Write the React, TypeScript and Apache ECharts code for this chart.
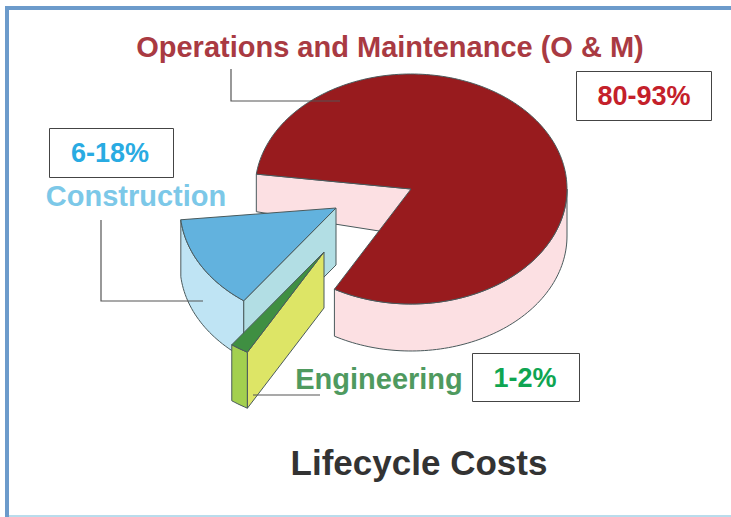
import React, { useEffect, useRef } from "react";
import * as echarts from "echarts";

const sliceNames = ["Operations and Maintenance (O & M)", "Construction", "Engineering"];
const sliceRanges = ["80-93%", "6-18%", "1-2%"];
const sliceShares = [81.1, 13.3, 1.9];
const FONT = "'Liberation Sans', Arial, sans-serif";
const W = 731, H = 517;
const RX = 156, RY = 115, FIRST_ANGLE = 119.4;
const centres = [[411, 189], [336, 208], [324, 252]];
const depths = [47, 57, 56];
const topFill = ["#981b1e", "#62b2de", "#3f8f42"];
const sideFill = ["#fce0e3", "#bfe4f4", "#a3d04f"];
const wallFill = ["#fce0e3", "#b2dee4", "#dde566"];
const EDGE = "#4a5a5c";

const rad = (d: number) => (d * Math.PI) / 180;

function App() {
  const ref = useRef<HTMLDivElement>(null);
  useEffect(() => {
    const chart = echarts.init(ref.current!, undefined, { renderer: "svg" });
    const toDeg = sliceShares.map((s) => s * 3.6);
    const starts = [FIRST_ANGLE + 360 - toDeg[0], FIRST_ANGLE + toDeg[2], FIRST_ANGLE];

    const renderItem = (params: any, api: any) => {
      const i = params.dataIndex;
      const start = api.value(0), span = api.value(1);
      const end = start + span;
      const [cx, cy] = centres[i];
      const d = depths[i];
      const pt = (a: number, dy = 0) => [cx + RX * Math.cos(rad(a)), cy + RY * Math.sin(rad(a)) + dy];
      const arc = (a0: number, a1: number, dy = 0) => {
        const n = Math.max(2, Math.ceil(Math.abs(a1 - a0) / 1.5));
        return Array.from({ length: n + 1 }, (_, k) => pt(a0 + ((a1 - a0) * k) / n, dy));
      };
      const poly = (points: number[][], fill: string) => ({
        type: "polygon",
        shape: { points },
        style: { fill, stroke: EDGE, lineWidth: 1, lineJoin: "round" },
      });
      const children: any[] = [];
      if (i === 0) {
        // the main slice's visible inner wall, seen from its notch
        const p = pt(start);
        children.push(poly([p, [cx, cy], [cx, cy + d], [p[0], p[1] + d * 0.8]], wallFill[i]));
      }
      // outer rim: only the front half of the ellipse shows
      for (const k of [0, 360]) {
        const a0 = Math.max(start, k), a1 = Math.min(end, k + 180);
        if (a1 > a0) children.push(poly([...arc(a0, a1), ...arc(a1, a0, d)], sideFill[i]));
      }
      if (i > 0) {
        // radial wall facing front right
        const p = pt(start);
        children.push(poly([p, [cx, cy], [cx, cy + d], [p[0], p[1] + d]], wallFill[i]));
      }
      children.push(poly([[cx, cy], ...arc(start, end)], topFill[i]));
      return { type: "group", children };
    };

    const label = (text: string, x: number, y: number, fontSize: number, fill: string) => ({
      type: "text", x, y, z: 20,
      style: { text, fontSize, fontWeight: "bold", fontFamily: FONT, fill, align: "center", verticalAlign: "middle" },
    });
    const box = (x: number, y: number, w: number, h: number) => ({
      type: "rect", z: 15, shape: { x: x + 0.5, y: y + 0.5, width: w, height: h },
      style: { fill: "#fff", stroke: "#444", lineWidth: 1 },
    });
    const leader = (points: number[][]) => ({
      type: "polyline", z: 15, shape: { points },
      style: { fill: "none", stroke: "#555", lineWidth: 1.2 },
    });
    const bar = (x: number, y: number, width: number, height: number, fill: string) => ({
      type: "rect", z: 1, shape: { x, y, width, height }, style: { fill },
    });

    chart.setOption({
      animation: false,
      backgroundColor: "#fff",
      series: [{
        type: "custom",
        coordinateSystem: "none",
        silent: true,
        renderItem,
        data: sliceShares.map((_, i) => [starts[i], toDeg[i]]),
      }],
      graphic: [
        bar(5, 6, W - 5, 4, "#6c9bcb"),
        bar(5, 6, 4, H - 6, "#6c9bcb"),
        bar(9, H - 2, W - 9, 2, "#b9dcec"),
        leader([[231, 69], [231, 101], [340, 101]]),
        leader([[101, 220], [101, 301], [203, 301]]),
        leader([[253, 395], [320, 395]]),
        box(576, 71, 135, 49),
        box(49, 128, 124, 49),
        box(472, 353, 107, 48),
        label(sliceNames[0], 390, 47, 29, "#a93a42"),
        label(sliceNames[1], 136, 196, 29, "#7cc8e8"),
        label(sliceNames[2], 379, 379, 29, "#4f9a5f"),
        label(sliceRanges[0], 644, 96, 27, "#c4202a"),
        label(sliceRanges[1], 110, 153, 27, "#29abe2"),
        label(sliceRanges[2], 525, 378, 27, "#0fa552"),
        label("Lifecycle Costs", 419, 462, 35, "#333"),
      ],
    });
    return () => chart.dispose();
  }, []);
  return <div ref={ref} style={{ position: "fixed", left: 0, top: 0, width: W, height: H }} />;
}

export default App;
